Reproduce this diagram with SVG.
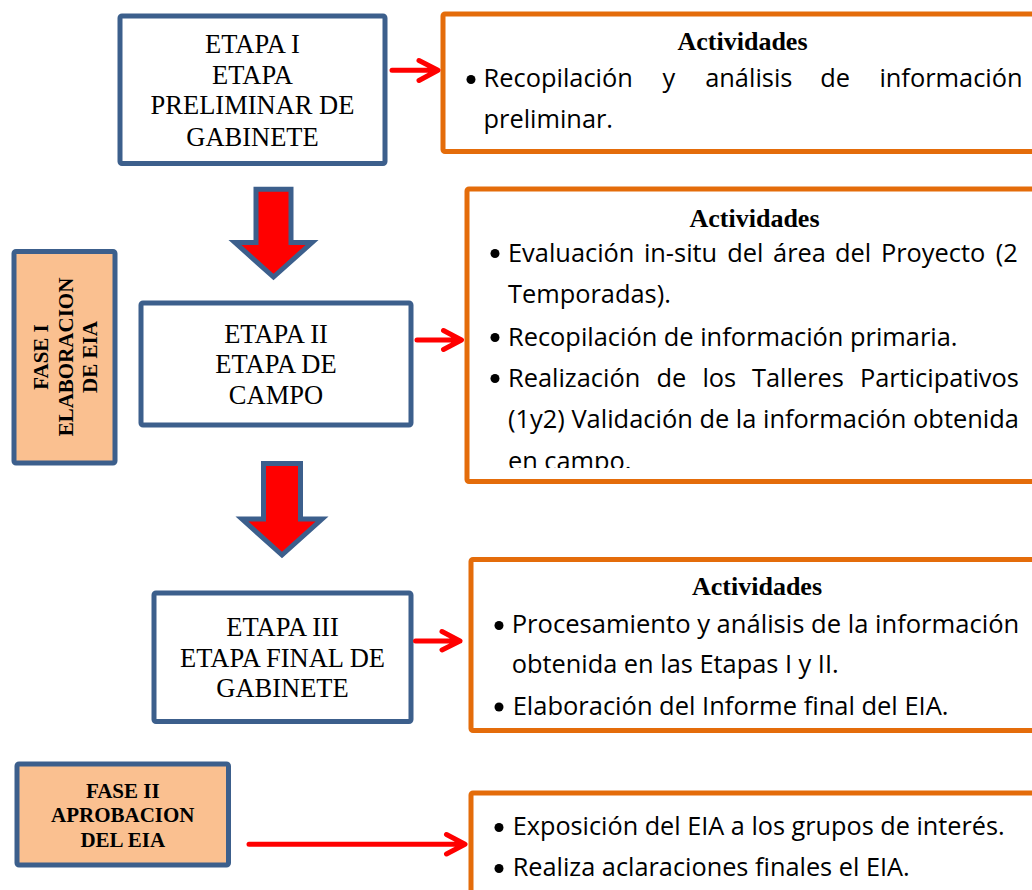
<svg xmlns="http://www.w3.org/2000/svg" width="1032" height="890" viewBox="0 0 1032 890">
<defs>
<style>
.blue{fill:#ffffff;stroke:#3C5F8C;stroke-width:5}
.peach{fill:#FAC090;stroke:#3C5F8C;stroke-width:5}
.orange{fill:#ffffff;stroke:#E46C0A;stroke-width:5}
.etapa{font-family:"Liberation Serif","Times New Roman",serif;font-size:26.5px;fill:#000;text-anchor:middle}
.fase{font-family:"Liberation Serif","Times New Roman",serif;font-size:21px;font-weight:bold;fill:#000;text-anchor:middle}
.act{font-family:"Liberation Serif","Times New Roman",serif;font-size:26px;font-weight:bold;fill:#000;text-anchor:middle}
.b{font-family:"Open Sans","Noto Sans",sans-serif;font-size:25.4px;fill:#000}
.dot{fill:#000}
.conn{stroke:#FF0000;stroke-width:5;fill:none;stroke-linecap:round;stroke-linejoin:round}
.block{fill:#FF0000;stroke:#3C5F8C;stroke-width:5;stroke-linejoin:miter}
</style>
<clipPath id="clip2"><rect x="470" y="192" width="562" height="276"/></clipPath>
</defs>
<rect x="0" y="0" width="1032" height="890" fill="#ffffff"/>

<g id="etapa1">
<rect class="blue" x="120" y="16" width="265" height="147.5" rx="2"/>
<text class="etapa" x="252.5" y="53.3">ETAPA I</text>
<text class="etapa" x="252.5" y="83.5">ETAPA</text>
<text class="etapa" x="252.5" y="114">PRELIMINAR DE</text>
<text class="etapa" x="252.5" y="145.7">GABINETE</text>
</g>

<g id="actividades1">
<rect class="orange" x="443" y="14" width="620" height="137.5" rx="2"/>
<text class="act" x="742.5" y="50">Actividades</text>
<circle class="dot" cx="471" cy="79.5" r="4.5"/>
<text class="b" y="87.3"><tspan x="483.6">Recopilación</tspan><tspan x="662.6">y</tspan><tspan x="705.2">análisis</tspan><tspan x="820.2">de</tspan><tspan x="879.4">información</tspan></text>
<text class="b" x="483.6" y="128" textLength="129.4" lengthAdjust="spacingAndGlyphs">preliminar.</text>
</g>

<g id="fase1">
<rect class="peach" x="14" y="251.5" width="101" height="211.5" rx="2"/>
<text class="fase" transform="translate(48.3,357) rotate(-90)">FASE I</text>
<text class="fase" transform="translate(72.7,357) rotate(-90)">ELABORACION</text>
<text class="fase" transform="translate(96.7,357) rotate(-90)">DE EIA</text>
</g>

<g id="etapa2">
<rect class="blue" x="141" y="303" width="270" height="122" rx="2"/>
<text class="etapa" x="276" y="342.7">ETAPA II</text>
<text class="etapa" x="276" y="373.3">ETAPA DE</text>
<text class="etapa" x="276" y="404.3">CAMPO</text>
</g>

<g id="actividades2">
<rect class="orange" x="467" y="189" width="600" height="292.5" rx="2"/>
<text class="act" x="754.5" y="226.7">Actividades</text>
<circle class="dot" cx="495" cy="253.5" r="4.5"/>
<text class="b" y="261.7"><tspan x="508">Evaluación</tspan><tspan x="643.9">in-situ</tspan><tspan x="727.2">del</tspan><tspan x="773.1">área</tspan><tspan x="835">del</tspan><tspan x="880.9">Proyecto</tspan><tspan x="995.7">(2</tspan></text>
<text class="b" x="508" y="303.3" textLength="162.8" lengthAdjust="spacingAndGlyphs">Temporadas).</text>
<circle class="dot" cx="495" cy="337.5" r="4.5"/>
<text class="b" x="508" y="345.7" textLength="449.5" lengthAdjust="spacingAndGlyphs">Recopilación de información primaria.</text>
<circle class="dot" cx="495" cy="378.5" r="4.5"/>
<text class="b" y="386.7"><tspan x="508">Realización</tspan><tspan x="656.4">de</tspan><tspan x="702.4">los</tspan><tspan x="752">Talleres</tspan><tspan x="859.9">Participativos</tspan></text>
<text class="b" x="508" y="428.3" textLength="511" lengthAdjust="spacingAndGlyphs">(1y2) Validación de la información obtenida</text>
<g clip-path="url(#clip2)">
<text class="b" x="508" y="469.5" textLength="123.4" lengthAdjust="spacingAndGlyphs">en campo.</text>
</g>
</g>

<g id="etapa3">
<rect class="blue" x="154" y="593" width="257" height="128.5" rx="2"/>
<text class="etapa" x="282.5" y="636">ETAPA III</text>
<text class="etapa" x="282.5" y="666.7">ETAPA FINAL DE</text>
<text class="etapa" x="282.5" y="697.3">GABINETE</text>
</g>

<g id="actividades3">
<rect class="orange" x="471" y="559.5" width="600" height="171" rx="2"/>
<text class="act" x="757" y="595">Actividades</text>
<circle class="dot" cx="499" cy="625.5" r="4.5"/>
<text class="b" x="511.7" y="633.3" textLength="507.5" lengthAdjust="spacingAndGlyphs">Procesamiento y análisis de la información</text>
<text class="b" x="511.7" y="673.3" textLength="327" lengthAdjust="spacingAndGlyphs">obtenida en las Etapas I y II.</text>
<circle class="dot" cx="499" cy="707" r="4.5"/>
<text class="b" x="512.7" y="715" textLength="435.8" lengthAdjust="spacingAndGlyphs">Elaboración del Informe final del EIA.</text>
</g>

<g id="fase2">
<rect class="peach" x="17" y="764" width="211.5" height="101" rx="2"/>
<text class="fase" x="122.75" y="798.3">FASE II</text>
<text class="fase" x="122.75" y="821.7">APROBACION</text>
<text class="fase" x="122.75" y="846.7">DEL EIA</text>
</g>

<g id="actividades4">
<rect class="orange" x="471" y="793" width="600" height="130" rx="2"/>
<circle class="dot" cx="499" cy="827.5" r="4.5"/>
<text class="b" x="512.7" y="835" textLength="492" lengthAdjust="spacingAndGlyphs">Exposición del EIA a los grupos de interés.</text>
<circle class="dot" cx="499" cy="868.5" r="4.5"/>
<text class="b" x="512.7" y="876" textLength="397" lengthAdjust="spacingAndGlyphs">Realiza aclaraciones finales el EIA.</text>
</g>

<g id="connectors">
<path class="block" d="M256,189.2 H291 V242.5 H312 L273.5,277 L235,242.5 H256 Z"/>
<path class="block" d="M263.5,463.5 H300.5 V519 H322 L282,555 L242,519 H263.5 Z"/>
<path class="conn" d="M392,70.3 H437.5 M419,60.5 L438,70.3 L419,80.5"/>
<path class="conn" d="M417,340 H461 M443.5,330.5 L461.5,340 L443.5,349.5"/>
<path class="conn" d="M415.5,641 H460 M442,631.5 L460,641 L442,650"/>
<path class="conn" d="M249,844.3 H464.5 M446.5,834.5 L465,844.3 L446.5,854"/>
</g>
</svg>
